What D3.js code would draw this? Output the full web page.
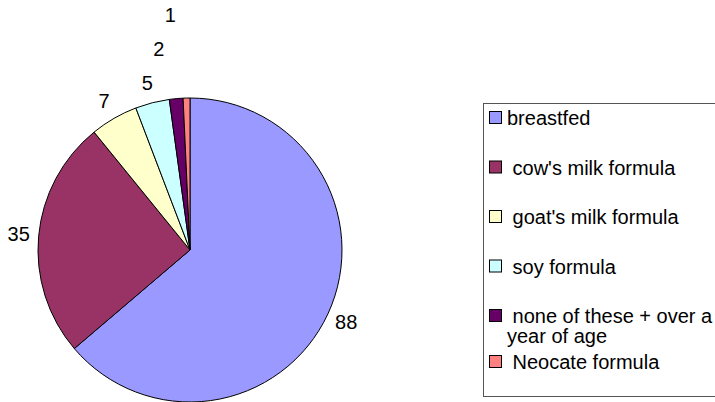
<!DOCTYPE html>
<html>
<head>
<meta charset="utf-8">
<script src="https://cdn.jsdelivr.net/npm/d3@7"></script>
<style>
  body { margin: 0; background: #fff; }
  svg { display: block; font-family: "Liberation Sans", Arial, sans-serif; }
</style>
</head>
<body>
<div id="chart"></div>
<script>
// values
const categories = ["breastfed", " cow's milk formula", " goat's milk formula", " soy formula", " none of these + over a year of age", " Neocate formula"];
const counts = [88, 35, 7, 5, 2, 1];
const colors = ["#9999FF", "#993366", "#FFFFCC", "#CCFFFF", "#660066", "#FF8080"];

const width = 715, height = 402;
const cx = 190, cy = 250, radius = 152;
const fontSize = 20;

const data = categories.map((c, i) => ({ name: c, value: counts[i], color: colors[i] }));

const svg = d3.select("#chart")
  .append("svg")
  .attr("width", width)
  .attr("height", height);

const pie = d3.pie().value((d) => d.value).sort(null);
const arc = d3.arc().innerRadius(0).outerRadius(radius);
const labelArc = d3.arc().innerRadius(172).outerRadius(172);

const arcs = pie(data);

const g = svg.append("g").attr("transform", `translate(${cx},${cy})`);

g.selectAll("path")
  .data(arcs)
  .join("path")
  .attr("d", arc)
  .attr("fill", (d) => d.data.color)
  .attr("stroke", "#000")
  .attr("stroke-width", 1);

// label positions, pushing crowded labels up and to the right
let prev = null;
const labelPos = arcs.map((d) => {
  let [x, y] = labelArc.centroid(d);
  if (prev && x - prev[0] > 0 && x - prev[0] < 30 && y > prev[1] - 30) {
    x = prev[0] + 11.5;
    y = prev[1] - 34;
  }
  prev = [x, y];
  return [x, y];
});

g.selectAll("text.val")
  .data(arcs)
  .join("text")
  .attr("class", "val")
  .attr("x", (d, i) => labelPos[i][0])
  .attr("y", (d, i) => labelPos[i][1])
  .attr("dy", "0.35em")
  .attr("text-anchor", "middle")
  .attr("font-size", fontSize)
  .attr("fill", "#000")
  .text((d) => d.data.value);

// legend
const legend = svg.append("g");
legend.append("rect")
  .attr("x", 483.5)
  .attr("y", 103.5)
  .attr("width", 250)
  .attr("height", 293)
  .attr("fill", "#fff")
  .attr("stroke", "#555")
  .attr("stroke-width", 1);

const textX = 507, maxW = 208, lineH = 20;
let y = 118;
data.forEach((d) => {
  const item = legend.append("g");
  item.append("rect")
    .attr("x", 489.5)
    .attr("y", y - 6.5)
    .attr("width", 12)
    .attr("height", 12)
    .attr("fill", d.color)
    .attr("stroke", "#000")
    .attr("stroke-width", 1);
  const t = item.append("text")
    .attr("x", textX)
    .attr("y", y)
    .attr("dy", "0.35em")
    .attr("font-size", fontSize)
    .style("white-space", "pre")
    .attr("fill", "#000");
  // simple word wrap
  const words = d.name.split(" ");
  let line = "";
  let tspan = t.append("tspan").attr("x", textX);
  let lines = 1;
  words.forEach((w, i) => {
    const test = i === 0 ? w : line + " " + w;
    tspan.text(test);
    if (tspan.node().getComputedTextLength() > maxW && line.trim() !== "") {
      tspan.text(line);
      line = w;
      lines++;
      tspan = t.append("tspan").attr("x", textX).attr("dy", lineH).text(w);
    } else {
      line = test;
    }
  });
  y += (lines - 1) * lineH + (lines > 1 ? 26 : 49.5);
});
</script>
</body>
</html>
